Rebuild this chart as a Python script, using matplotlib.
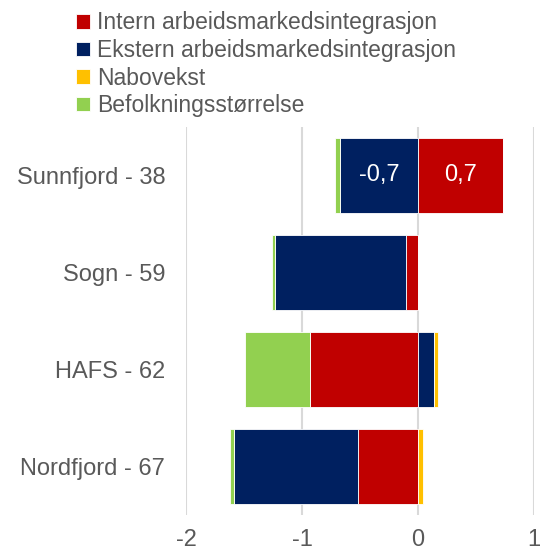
import matplotlib.pyplot as plt
import numpy as np

regions = ["Sunnfjord - 38", "Sogn - 59", "HAFS - 62", "Nordfjord - 67"]
series = ["Intern arbeidsmarkedsintegrasjon", "Ekstern arbeidsmarkedsintegrasjon",
          "Nabovekst", "Befolkningsstørrelse"]
intern = [0.73, -0.10, -0.93, -0.52]
ekstern = [-0.67, -1.13, 0.14, -1.07]
nabovekst = [0.0, 0.0, 0.03, 0.04]
befolkning = [-0.05, -0.03, -0.56, -0.03]
colors = ["#c00000", "#002060", "#ffc000", "#92d050"]

plt.rcParams['font.family'] = ['Liberation Sans', 'DejaVu Sans']
grey = "#595959"

fig = plt.figure(figsize=(5.41, 5.53), dpi=100)
ax = fig.add_axes([0.344, 0.068, 0.643, 0.703])

y = np.arange(len(regions))
pos_left = np.zeros(len(regions))
neg_left = np.zeros(len(regions))
handles = []
for name, vals, c in zip(series, [intern, ekstern, nabovekst, befolkning], colors):
    vals = np.array(vals)
    left = np.where(vals >= 0, pos_left, neg_left)
    bars = ax.barh(y, vals, left=left, height=0.77, color=c,
                   edgecolor="white", linewidth=0.6, label=name, zorder=3)
    handles.append(bars)
    # only the first region gets value labels
    for i, (v, l) in enumerate(zip(vals, left)):
        if i == 0 and abs(v) > 0.3:
            ax.text(l + v / 2, y[i], f"{v:.1f}".replace(".", ","),
                    ha="center", va="center", color="white", fontsize=17, zorder=4)
    pos_left = pos_left + np.where(vals >= 0, vals, 0)
    neg_left = neg_left + np.where(vals < 0, vals, 0)

ax.set_xlim(-2, 1)
ax.set_ylim(3.5, -0.5)
ax.set_xticks([-2, -1, 0, 1])
ax.set_xticklabels(["-2", "-1", "0", "1"])
ax.set_yticks(y)
ax.set_yticklabels(regions)
ax.tick_params(length=0, labelsize=17, colors=grey)
ax.tick_params(axis="x", pad=10)
ax.tick_params(axis="y", pad=15)
ax.grid(axis="x", color="#d9d9d9", linewidth=1.5, zorder=0)
for s in ax.spines.values():
    s.set_visible(False)

fig.legend(handles=handles, labels=series, loc="upper left",
           bbox_to_anchor=(0.12, 1.0), frameon=False, fontsize=16.5,
           labelcolor=grey, handlelength=0.6, handleheight=0.6,
           handletextpad=0.3, labelspacing=0.2, borderaxespad=0.1)

fig.savefig("out.png", dpi=100)
